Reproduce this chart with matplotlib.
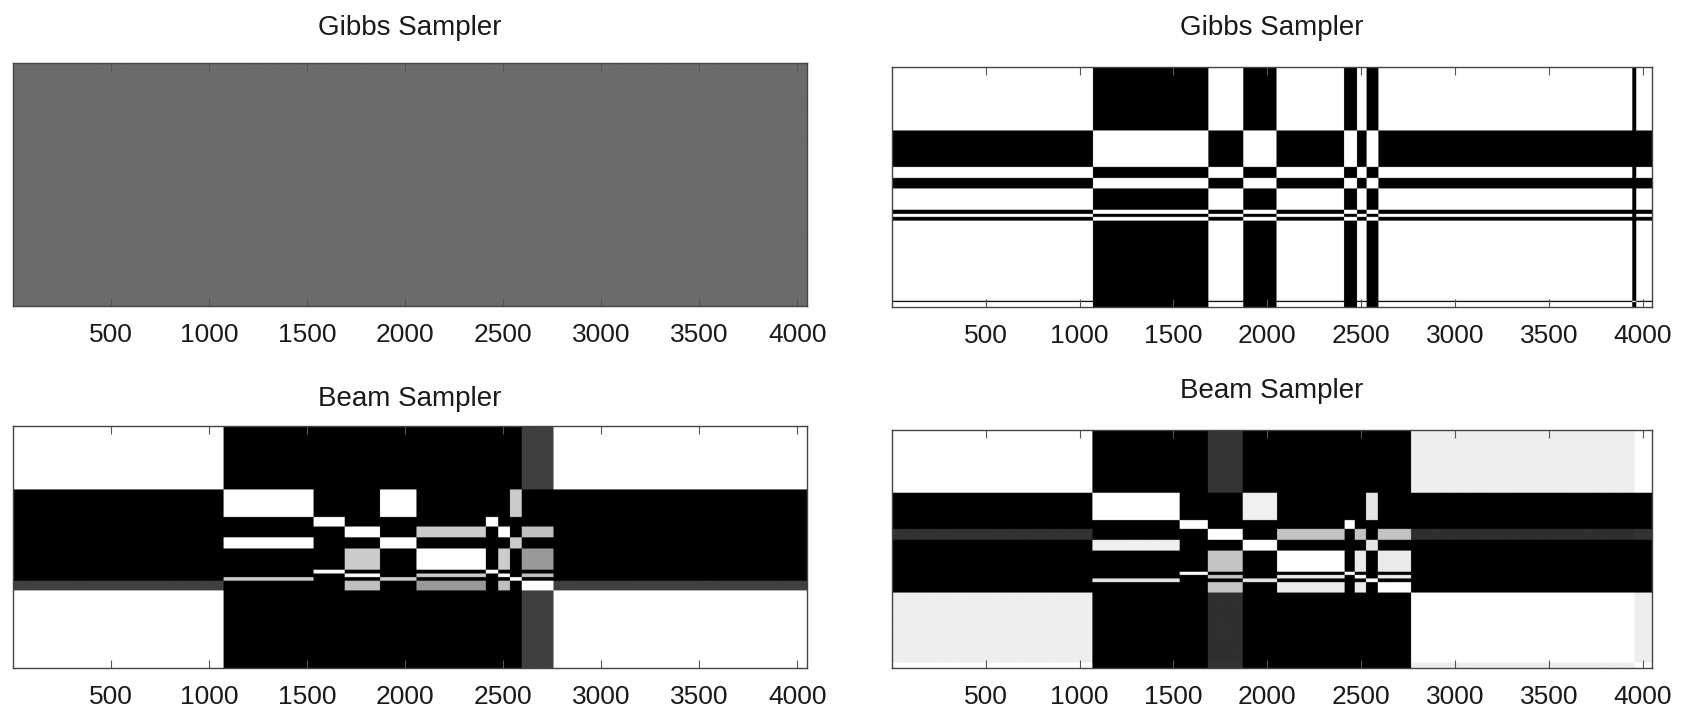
import numpy as np
import matplotlib
matplotlib.use("Agg")
import matplotlib.pyplot as plt

plt.rcParams['font.family'] = ['Liberation Sans', 'DejaVu Sans']

# ---------------- data ----------------
N_STEPS = 4050
tick_values = [500, 1000, 1500, 2000, 2500, 3000, 3500, 4000]
titles = ["Gibbs Sampler", "Gibbs Sampler", "Beam Sampler", "Beam Sampler"]

# panel 1 (Gibbs, top-left): uniform co-occurrence probability
gibbs1_level = 0.42

# panel 2 (Gibbs, top-right): segment edges and states (deterministic)
gibbs2_edges = [0, 1072, 1686, 1872, 2049, 2409, 2478, 2530, 2592, 3945, 3966, 4050]
gibbs2_state = ["A", "B", "A", "B", "A", "B", "A", "B", "A", "C", "A"]
gibbs2_conf = [1, 1, 1, 1, 1, 1, 1, 1, 1, 1, 1]
gibbs2_alt = [None] * 11

# panel 3 (Beam, bottom-left)
beam1_edges = [0, 1073, 1533, 1691, 1873, 2057, 2411, 2475, 2534, 2594, 2756, 4050]
beam1_state = ["A", "B", "C", "D", "B", "D", "C", "D", "B", "D", "A"]
beam1_conf = [1, 1, 1, 1, 1, 0.8, 1, 1, 0.8, 0.75, 1]
beam1_alt = [None, None, None, None, None, None, None, None, None, "A", None]

# panel 4 (Beam, bottom-right)
beam2_edges = [0, 1069, 1532, 1683, 1869, 2053, 2412, 2465, 2527, 2589, 2767, 3958, 4050]
beam2_state = ["A", "B", "C", "D", "B", "D", "C", "D", "B", "D", "A", "A"]
beam2_conf = [1, 0.97, 1, 0.8, 0.97, 0.96, 1, 0.96, 0.93, 0.96, 0.93, 1]
beam2_alt = [None, None, None, "A", None, None, None, None, None, None, None, None]


# ---------------- helpers ----------------
def segment_matrix(edges, state, conf, alt):
    names = sorted(set(state) | {a for a in alt if a})
    nseg = len(state)
    P = np.zeros((nseg, len(names) + nseg))
    for i in range(nseg):
        P[i, names.index(state[i])] = conf[i]
        rest = 1 - conf[i]
        if rest > 0:
            if alt[i]:
                P[i, names.index(alt[i])] += rest
            else:
                P[i, len(names) + i] = rest
    M = P @ P.T
    np.fill_diagonal(M, 1.0)
    return M


def expand(edges, M, n, step=3):
    t = np.arange(step / 2, n, step)
    idx = np.clip(np.searchsorted(edges, t, side='right') - 1, 0, len(edges) - 2)
    return M[np.ix_(idx, idx)]


img1 = np.full((200, 200), gibbs1_level)
img2 = expand(gibbs2_edges, segment_matrix(gibbs2_edges, gibbs2_state, gibbs2_conf, gibbs2_alt), N_STEPS)
img3 = expand(beam1_edges, segment_matrix(beam1_edges, beam1_state, beam1_conf, beam1_alt), N_STEPS)
img4 = expand(beam2_edges, segment_matrix(beam2_edges, beam2_state, beam2_conf, beam2_alt), N_STEPS)
images = [img1, img2, img3, img4]

# ---------------- figure ----------------
W, H = 1682, 709
fig = plt.figure(figsize=(W / 100, H / 100), dpi=100)
fig.patch.set_facecolor('white')

# axes boxes in pixels: (left, top, right, bottom)
boxes = [(13, 63, 807, 306), (892, 67, 1652, 307), (13, 426, 807, 668), (892, 430, 1652, 668)]
title_y = [28, 28, 399, 391]

for k, (img, box) in enumerate(zip(images, boxes)):
    l, t, r, b = box
    ax = fig.add_axes([l / W, 1 - b / H, (r - l) / W, (b - t) / H])
    ax.imshow(img, cmap='gray', vmin=0, vmax=1, aspect='auto',
              extent=[0, N_STEPS, N_STEPS, 0], interpolation='antialiased')
    ax.set_xlim(0, N_STEPS)
    ax.set_ylim(N_STEPS, 0)
    ax.set_xticks(tick_values)
    ax.set_xticklabels([str(v) for v in tick_values], fontsize=19, color='#1a1a1a')
    ax.set_yticks([])
    ax.tick_params(axis='x', direction='in', length=6, width=0.8, color='#555555',
                   top=True, bottom=True, pad=12)
    for sp in ax.spines.values():
        sp.set_color('#444444')
        sp.set_linewidth(1.0)
    fig.text(((l + r) / 2) / W, 1 - title_y[k] / H, titles[k], ha='center', va='center',
             fontsize=20, color='#1a1a1a')

fig.savefig("out.png", dpi=100, facecolor='white')
